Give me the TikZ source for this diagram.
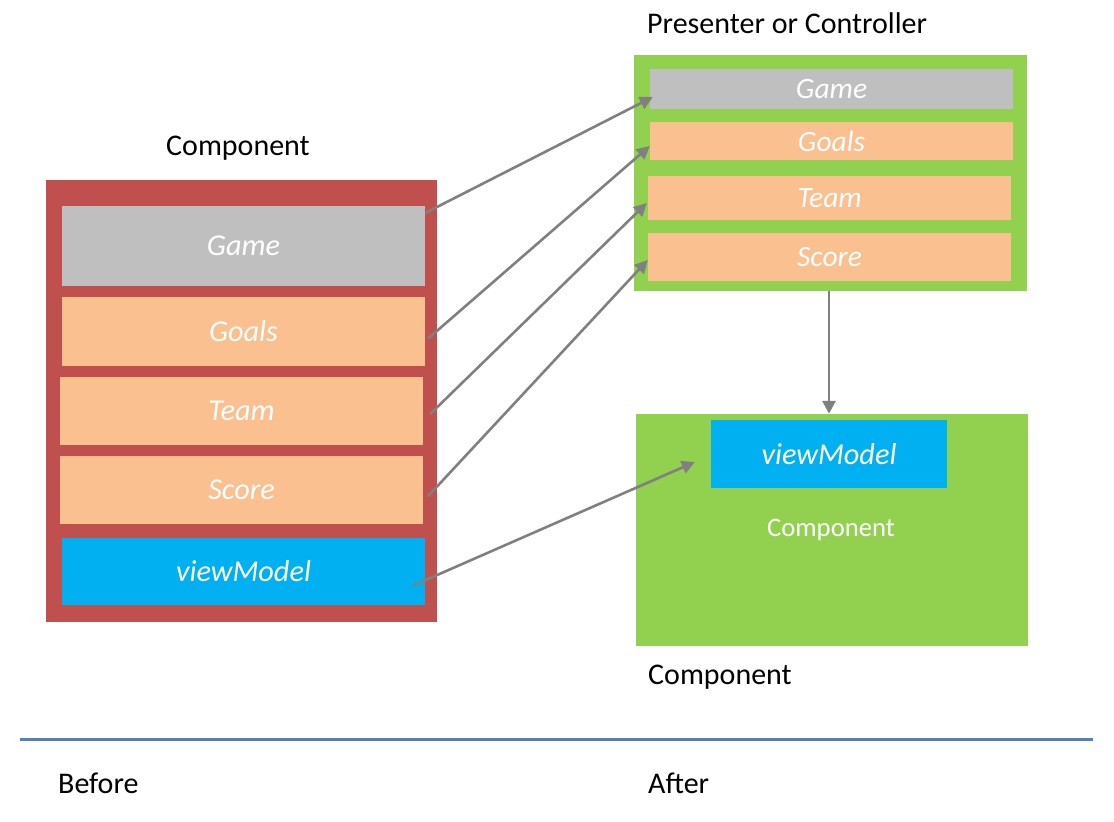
\documentclass[tikz,border=0pt]{standalone}
\usepackage{fontspec}
\setmainfont{Carlito}
\usetikzlibrary{arrows.meta}
\definecolor{boxred}{HTML}{C0504D}
\definecolor{boxgreen}{HTML}{92D050}
\definecolor{boxgray}{HTML}{BFBFBF}
\definecolor{boxorange}{HTML}{FAC090}
\definecolor{boxblue}{HTML}{00B0F0}
\definecolor{linkgray}{HTML}{808080}
\definecolor{ruleblue}{HTML}{4F81BD}
\tikzset{
	field/.style={draw=none, inner sep=0pt, text=white, font=\fontsize{30.3}{34}\selectfont\itshape},
	smallfield/.style={field, font=\fontsize{29.5}{33}\selectfont\itshape},
	caption/.style={inner sep=0pt, anchor=base west, font=\fontsize{30}{34}\selectfont},
	link/.style={linkgray, line width=2.6pt, -{Triangle[length=13pt, width=13pt]}}
}
\begin{document}
\begin{tikzpicture}[x=1pt, y=-1pt]
	\useasboundingbox (0,0) rectangle (1114,822);
	% before: component with its own fields
	\node[caption] (lcap) at (166,155) {Component};
	\node[fill=boxred, minimum width=391pt, minimum height=442pt, inner sep=0pt] (lbox) at (241.5,401) {};
	\node[field, fill=boxgray, minimum width=363pt, minimum height=80pt] (lgame) at (243.5,246) {Game};
	\node[field, fill=boxorange, minimum width=363pt, minimum height=69pt] (lgoals) at (243.5,331.5) {Goals};
	\node[field, fill=boxorange, minimum width=363pt, minimum height=68pt] (lteam) at (241.5,411) {Team};
	\node[field, fill=boxorange, minimum width=363pt, minimum height=68pt] (lscore) at (241.5,490) {Score};
	\node[field, fill=boxblue, minimum width=363pt, minimum height=67pt] (lview) at (243.5,571.5) {viewModel};
	% after: presenter holds the fields
	\node[caption] (pcap) at (647,33) {Presenter or Controller};
	\node[fill=boxgreen, minimum width=393pt, minimum height=236pt, inner sep=0pt] (pbox) at (830.5,173) {};
	\node[smallfield, fill=boxgray, minimum width=363pt, minimum height=40pt] (rgame) at (831.5,89) {Game};
	\node[smallfield, fill=boxorange, minimum width=363pt, minimum height=38pt] (rgoals) at (831.5,141) {Goals};
	\node[smallfield, fill=boxorange, minimum width=363pt, minimum height=44pt] (rteam) at (829.5,198) {Team};
	\node[smallfield, fill=boxorange, minimum width=363pt, minimum height=48pt] (rscore) at (829.5,257) {Score};
	% after: component only keeps the view model
	\node[fill=boxgreen, minimum width=392pt, minimum height=232pt, inner sep=0pt] (cbox) at (832,530) {};
	\node[field, fill=boxblue, minimum width=236pt, minimum height=68pt] (rview) at (829,454) {viewModel};
	\node[inner sep=0pt, text=white, font=\fontsize{26.7}{30}\selectfont] (ctext) at (831,530) {Component};
	\node[caption] (ccap) at (648,684) {Component};
	% arrows
	\draw[link] ([yshift=33pt]lgame.east) -- ([xshift=3pt, yshift=-8pt]rgame.west);
	\draw[link] ([xshift=3pt, yshift=-7pt]lgoals.east) -- ([yshift=-5pt]rgoals.west);
	\draw[link] ([xshift=7pt, yshift=-3pt]lteam.east) -- ([xshift=-1pt, yshift=-5pt]rteam.west);
	\draw[link] ([xshift=5pt, yshift=-6pt]lscore.east) -- ([yshift=-3pt]rscore.west);
	\draw[link] ([xshift=-12pt, yshift=-14pt]lview.east) -- ([xshift=-16pt, yshift=-8pt]rview.west);
	\draw[link] ([xshift=-1.5pt]pbox.south) -- ([xshift=-3pt]cbox.north);
	% separator
	\draw[ruleblue, line width=3pt] (20,739) coordinate (rl) -- (1093,739) coordinate (rr);
	\node[caption] (before) at (58,793) {Before};
	\node[caption] (after) at (648,793) {After};
\end{tikzpicture}
\end{document}
